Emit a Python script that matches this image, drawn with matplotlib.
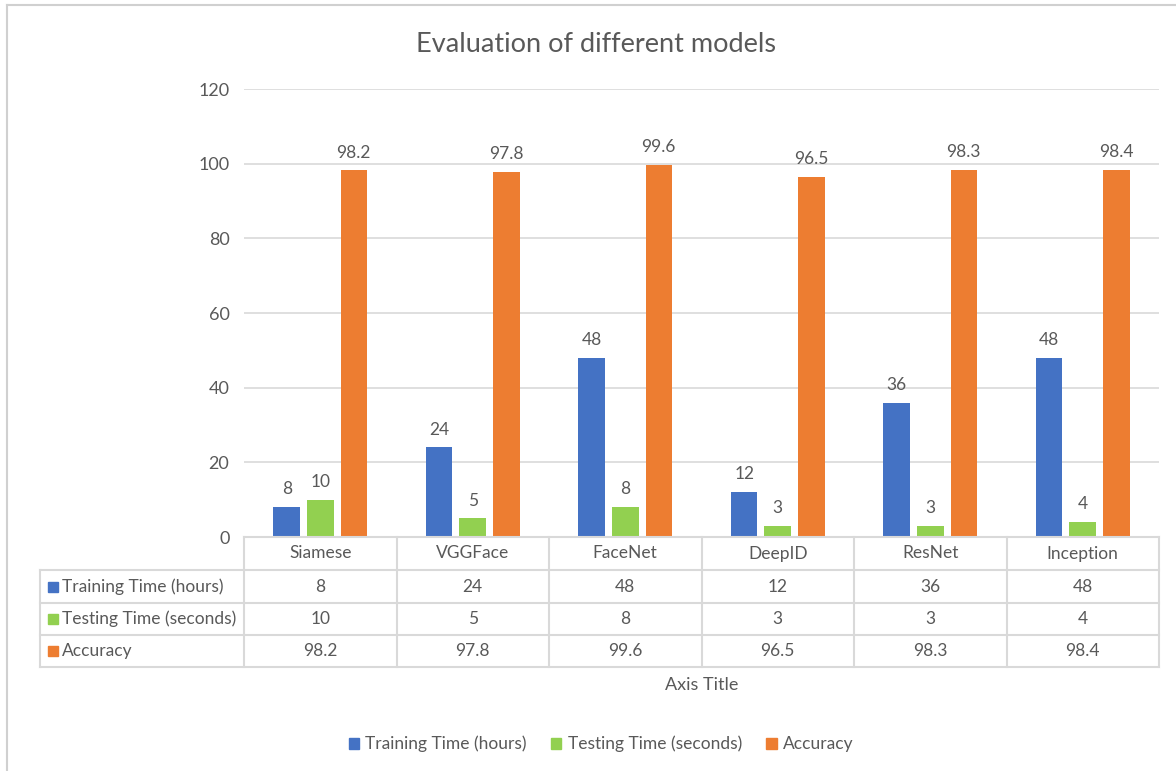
import numpy as np
import matplotlib.pyplot as plt
from matplotlib.patches import Rectangle
from matplotlib.lines import Line2D

models = ['Siamese', 'VGGFace', 'FaceNet', 'DeepID', 'ResNet', 'Inception']
series_names = ['Training Time (hours)', 'Testing Time (seconds)', 'Accuracy']
training_time = [8, 24, 48, 12, 36, 48]
testing_time = [10, 5, 8, 3, 3, 4]
accuracy = [98.2, 97.8, 99.6, 96.5, 98.3, 98.4]
colors = ['#4472C4', '#92D050', '#ED7D31']

plt.rcParams['font.family'] = ['Lato', 'DejaVu Sans']
TXT = '#595959'
GRID = '#d9d9d9'

W, H = 1176, 771
fig = plt.figure(figsize=(W / 100, H / 100), dpi=100)

def fx(px):
    return px / W

def fy(py):
    return 1 - py / H

# plot area in pixels
L, R, T, B = 244, 1159, 89, 537
ax = fig.add_axes([fx(L), fy(B), fx(R) - fx(L), fy(T) - fy(B)])

series = [training_time, testing_time, accuracy]
x = np.arange(len(models))
bw, step = 0.174, 0.22
for i, (vals, c) in enumerate(zip(series, colors)):
    xs = x + (i - 1) * step
    ax.bar(xs, vals, width=bw, color=c, zorder=3)
    for xi, v in zip(xs, vals):
        ax.annotate(str(v), (xi, v), xytext=(0, 7), textcoords='offset points',
                    ha='center', va='bottom', fontsize=12.5, color=TXT)

ax.set_xlim(-0.5, len(models) - 0.5)
ax.set_ylim(0, 120)
ax.set_yticks(range(0, 121, 20))
ax.tick_params(axis='y', length=0, pad=10.5, labelsize=13, labelcolor=TXT)
ax.set_xticks([])
ax.grid(axis='y', color=GRID, linewidth=1.2, zorder=0)
for s in ax.spines.values():
    s.set_visible(False)

# data table below the plot
row_y = [537, 570, 603, 635, 667]
tab_left = 40
col_w = (R - L) / len(models)
col_x = [L + k * col_w for k in range(len(models) + 1)]

def hline(y, x0, x1):
    fig.add_artist(Line2D([fx(x0), fx(x1)], [fy(y), fy(y)], color=GRID, lw=1.5))

def vline(x0, y0, y1):
    fig.add_artist(Line2D([fx(x0), fx(x0)], [fy(y0), fy(y1)], color=GRID, lw=1.5))

hline(row_y[0], L, R)
for y in row_y[1:]:
    hline(y, tab_left, R)
vline(tab_left, row_y[1], row_y[-1])
for cx in col_x:
    vline(cx, row_y[0], row_y[-1])

for k, m in enumerate(models):
    fig.text(fx(col_x[k] + col_w / 2), fy((row_y[0] + row_y[1]) / 2), m,
             ha='center', va='center', fontsize=12.5, color=TXT)

for r, (name, vals, c) in enumerate(zip(series_names, series, colors)):
    yc = (row_y[r + 1] + row_y[r + 2]) / 2
    fig.add_artist(Rectangle((fx(48), fy(yc + 5)), fx(10), 10 / H, color=c))
    fig.text(fx(62), fy(yc), name, ha='left', va='center', fontsize=12.5, color=TXT)
    for k, v in enumerate(vals):
        fig.text(fx(col_x[k] + col_w / 2), fy(yc), str(v),
                 ha='center', va='center', fontsize=12.5, color=TXT)

fig.text(fx((L + R) / 2), fy(685), 'Axis Title', ha='center', va='center',
         fontsize=13, color=TXT)
fig.text(fx(596), fy(45), 'Evaluation of different models', ha='center', va='center',
         fontsize=19.5, color=TXT)

# legend
handles = [Rectangle((0, 0), 1, 1, color=c) for c in colors]
fig.legend(handles, series_names, loc='center', bbox_to_anchor=(fx(601), fy(744)),
           ncol=3, frameon=False, fontsize=12.5, labelcolor=TXT,
           handlelength=0.6, handleheight=0.6, handletextpad=0.35, columnspacing=1.4)

# chart border
fig.add_artist(Line2D([fx(7), 1], [fy(5), fy(5)], color='#d0d0d0', lw=1.5))
fig.add_artist(Line2D([fx(7), fx(7)], [fy(5), 0], color='#d0d0d0', lw=1.5))

fig.savefig('out.png', dpi=100)
